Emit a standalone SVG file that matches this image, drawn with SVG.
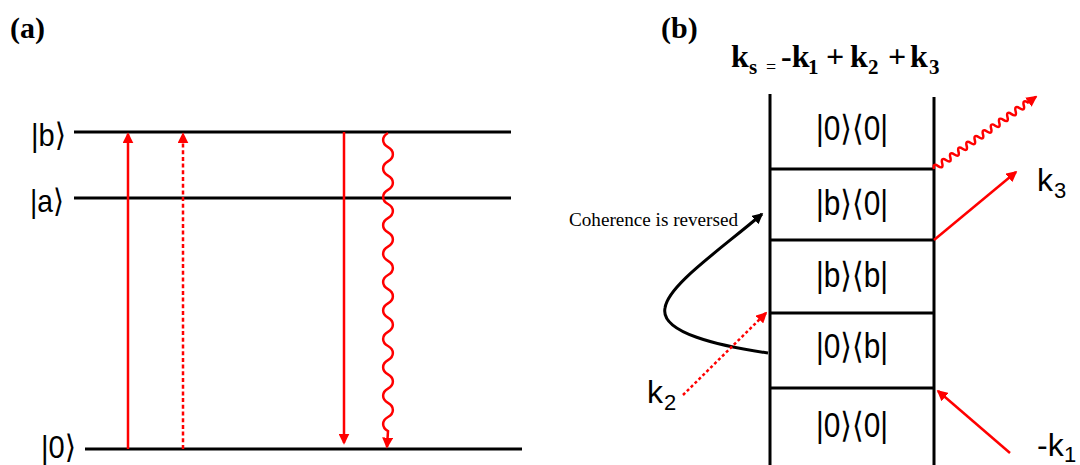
<svg xmlns="http://www.w3.org/2000/svg" width="1080" height="465" viewBox="0 0 1080 465">
<style>
.ttl{font-family:"Liberation Serif","Times New Roman",serif;font-weight:bold;font-size:30px;fill:#000}
.lv{stroke:#000;stroke-width:3;fill:none}
.st{font-family:"Liberation Sans","DejaVu Sans",sans-serif;font-size:32px;fill:#000}
.bx{font-family:"Liberation Sans","DejaVu Sans",sans-serif;font-size:35px;fill:#000;text-anchor:middle}
.kl{font-family:"Liberation Sans",Arial,sans-serif;font-size:32px;fill:#000}
.red{stroke:#f00;stroke-width:2.5;fill:none}
.dot{stroke-dasharray:4 2.7}
.eq{font-family:"Liberation Serif","Times New Roman",serif;font-weight:bold;font-size:32px;fill:#000}
.sub{font-size:21px}
</style>
<defs>
<marker id="ar" viewBox="0 0 10 10" refX="8.5" refY="5" markerWidth="11" markerHeight="11" markerUnits="userSpaceOnUse" orient="auto"><path d="M0,0 L10,5 L0,10 z" fill="#f00"/></marker>
<marker id="ak" viewBox="0 0 10 10" refX="8.5" refY="5" markerWidth="11" markerHeight="11" markerUnits="userSpaceOnUse" orient="auto"><path d="M0,0 L10,5 L0,10 z" fill="#000"/></marker>
</defs>
<rect width="1080" height="465" fill="#fff"/>

<g id="panel-a-title"><text class="ttl" x="10" y="38">(a)</text></g>

<g id="level-b">
<line class="lv" x1="74" y1="132" x2="511" y2="132"/>
<text class="st" x="31" y="146" textLength="35" lengthAdjust="spacingAndGlyphs">|b⟩</text>
</g>
<g id="level-a">
<line class="lv" x1="74" y1="198" x2="511" y2="198"/>
<text class="st" x="30" y="212" textLength="34" lengthAdjust="spacingAndGlyphs">|a⟩</text>
</g>
<g id="level-0">
<line class="lv" x1="85" y1="449" x2="522" y2="449"/>
<text class="st" x="41" y="458" textLength="35" lengthAdjust="spacingAndGlyphs">|0⟩</text>
</g>

<g id="connectors-a">
<path class="red" d="M128,449 L128,134" marker-end="url(#ar)"/>
<path class="red dot" d="M183,449 L183,134" stroke-width="3" marker-end="url(#ar)"/>
<path class="red" d="M344,132 L344,443" marker-end="url(#ar)"/>
<path class="red" d="M388,133 c -6.5,3.55 -6.5,10.65 0,14.2 s 6.5,10.65 0,14.2 s -6.5,10.65 0,14.2 s 6.5,10.65 0,14.2 s -6.5,10.65 0,14.2 s 6.5,10.65 0,14.2 s -6.5,10.65 0,14.2 s 6.5,10.65 0,14.2 s -6.5,10.65 0,14.2 s 6.5,10.65 0,14.2 s -6.5,10.65 0,14.2 s 6.5,10.65 0,14.2 s -6.5,10.65 0,14.2 s 6.5,10.65 0,14.2 s -6.5,10.65 0,14.2 s 6.5,10.65 0,14.2 s -6.5,10.65 0,14.2 s 6.5,10.65 0,14.2 s -6.5,10.65 0,14.2 s 6.5,10.65 0,14.2 s -6.5,10.65 0,14.2 L387,447" marker-end="url(#ar)"/>
</g>

<g id="panel-b-title"><text class="ttl" x="661" y="38">(b)</text></g>

<g id="equation">
<text class="eq" y="67"><tspan x="731" y="67">k</tspan><tspan class="sub" x="749" y="74">s</tspan><tspan x="766" y="73" font-size="18" font-weight="normal">=</tspan><tspan x="781" y="67">-k</tspan><tspan class="sub" x="808" y="74">1</tspan><tspan x="826" y="67">+</tspan><tspan x="850" y="67">k</tspan><tspan class="sub" x="868" y="74">2</tspan><tspan x="888" y="67">+</tspan><tspan x="910" y="67">k</tspan><tspan class="sub" x="929" y="74">3</tspan></text>
</g>

<g id="ladder">
<line class="lv" x1="770" y1="94" x2="770" y2="465"/>
<line class="lv" x1="934" y1="97" x2="934" y2="465"/>
</g>
<g id="box1">
<text class="bx" x="852" y="140" textLength="72" lengthAdjust="spacingAndGlyphs">|0⟩⟨0|</text>
</g>
<g id="box2">
<line class="lv" x1="770" y1="169" x2="934" y2="169"/>
<text class="bx" x="852" y="215" textLength="72" lengthAdjust="spacingAndGlyphs">|b⟩⟨0|</text>
</g>
<g id="box3">
<line class="lv" x1="770" y1="240" x2="934" y2="240"/>
<text class="bx" x="852" y="287" textLength="72" lengthAdjust="spacingAndGlyphs">|b⟩⟨b|</text>
</g>
<g id="box4">
<line class="lv" x1="770" y1="313" x2="934" y2="313"/>
<text class="bx" x="852" y="358" textLength="72" lengthAdjust="spacingAndGlyphs">|0⟩⟨b|</text>
</g>
<g id="box5">
<line class="lv" x1="770" y1="388" x2="934" y2="388"/>
<text class="bx" x="852" y="437" textLength="72" lengthAdjust="spacingAndGlyphs">|0⟩⟨0|</text>
</g>

<g id="coherence-label">
<text x="569" y="226" font-family="Liberation Serif,'Times New Roman',serif" font-size="19" textLength="169" lengthAdjust="spacingAndGlyphs">Coherence is reversed</text>
</g>

<g id="labels-k">
<text class="kl" x="647" y="403">k<tspan x="664" y="410" font-size="22">2</tspan></text>
<text class="kl" x="1037" y="191">k<tspan x="1054" y="198" font-size="22">3</tspan></text>
<text class="kl" x="1037" y="456">-k<tspan x="1064" y="462" font-size="22">1</tspan></text>
</g>

<g id="connectors-b">
<path d="M768,353 C 720,346 660,333 665,308 C 668,285 720,250 762,214" stroke="#000" stroke-width="3" fill="none" marker-end="url(#ak)"/>
<path class="red" d="M683,395 L766,313" stroke-width="3" stroke-dasharray="3 2.5" marker-end="url(#ar)"/>
<path class="red" d="M934,240 L1016,172" marker-end="url(#ar)"/>
<path class="red" d="M1010,453 L938,391" marker-end="url(#ar)"/>
<g transform="translate(934,169) rotate(-35.3)">
<path class="red" d="M0,0 c 1.5,-4 3.5,-4 5,0 s 3.5,4 5,0 s 3.5,-4 5,0 s 3.5,4 5,0 s 3.5,-4 5,0 s 3.5,4 5,0 s 3.5,-4 5,0 s 3.5,4 5,0 s 3.5,-4 5,0 s 3.5,4 5,0 s 3.5,-4 5,0 s 3.5,4 5,0 s 3.5,-4 5,0 s 3.5,4 5,0 s 3.5,-4 5,0 s 3.5,4 5,0 s 3.5,-4 5,0 s 3.5,4 5,0 s 3.5,-4 5,0 s 3.5,4 5,0 s 3.5,-4 5,0 s 3.5,4 5,0 s 3.5,-4 5,0 L125,0" marker-end="url(#ar)"/>
</g>
</g>
</svg>
